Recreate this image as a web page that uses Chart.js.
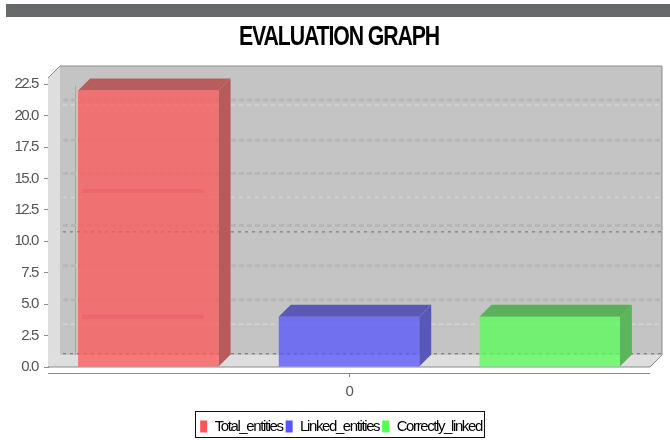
<!DOCTYPE html>
<html>
<head>
<meta charset="utf-8">
<title>Evaluation graph</title>
<script src="https://cdn.jsdelivr.net/npm/chart.js@4"></script>
<style>
  html, body { margin: 0; padding: 0; background: #fff; }
  #wrap { position: relative; width: 670px; height: 440px; }
  #topbar { position: absolute; left: 6px; right: 0; top: 4px; height: 13px; background: #676a6a; }
  canvas { position: absolute; left: 0; top: 0; }
</style>
</head>
<body>
<div id="wrap">
  <canvas id="myChart" width="670" height="440"></canvas>
  <div id="topbar"></div>
</div>
<script>
const categories = ['0'];
const seriesNames = ['Total_entities', 'Linked_entities', 'Correctly_linked'];
const totalEntities = [22];
const linkedEntities = [4];
const correctlyLinked = [4];
const yTicks = [0, 2.5, 5, 7.5, 10, 12.5, 15, 17.5, 20, 22.5];

// wall grid rows as they show in the picture (the scan smears them into three looks)
const softRows = [20.3, 17.1, 14.45, 10.3, 7.1, 4.4];
const lightRows = [19.9, 12.55, 2.45];
const darkRows = [9.8, 0.1];
const redBands = [14, 4];

const solid = ['#ff5555', '#5555ff', '#55ff55'];
const front = ['rgba(255,85,85,0.75)', 'rgba(85,85,255,0.75)', 'rgba(85,255,85,0.75)'];
const sideCol = ['#b85a5a', '#5858b8', '#5cb45c'];
const topCol = ['#b85c5c', '#5a5ab4', '#5cb05c'];
const DEPTH = 12;
const FONT = "'Liberation Sans', sans-serif";

function poly(ctx, pts, fill, stroke) {
  ctx.beginPath();
  pts.forEach((p, i) => i ? ctx.lineTo(p[0], p[1]) : ctx.moveTo(p[0], p[1]));
  ctx.closePath();
  if (fill) { ctx.fillStyle = fill; ctx.fill(); }
  if (stroke) { ctx.strokeStyle = stroke; ctx.stroke(); }
}

function rows(chart, values, color, width, dash) {
  const { ctx, chartArea: a, scales: { y } } = chart;
  ctx.save();
  ctx.strokeStyle = color;
  ctx.lineWidth = width;
  ctx.setLineDash(dash);
  values.forEach(v => {
    const py = y.getPixelForValue(v) - DEPTH;
    ctx.beginPath();
    ctx.moveTo(a.left + DEPTH + 3, py);
    ctx.lineTo(a.right + DEPTH, py);
    ctx.stroke();
  });
  ctx.restore();
}

const box3d = {
  id: 'box3d',
  // the original font is a narrow one, none is installed
  beforeUpdate(chart) { chart.ctx.letterSpacing = '-1.4px'; },
  afterLayout(chart) {
    // title squeezed by fillText's maxWidth, legend moved under the plot centre
    chart.titleBlock.left = 239;
    chart.titleBlock.right = 439;
    chart.legend.left = 32;
    chart.legend.top += 4;
    chart.legend.bottom += 4;
    chart.legend.adjustHitBoxes();
  },
  beforeDatasetsDraw(chart) {
    const { ctx, chartArea: a } = chart;
    const l = a.left, r = a.right, t = a.top, b = a.bottom, d = DEPTH;
    ctx.save();
    ctx.lineWidth = 1;
    poly(ctx, [[l + d, t - d], [r + d, t - d], [r + d, b - d], [l + d, b - d]], '#c4c4c4');
    poly(ctx, [[l, t], [l + d, t - d], [l + d, b - d], [l, b]], '#dedede');
    poly(ctx, [[l, b], [l + d, b - d], [r + d, b - d], [r, b]], '#dedede');
    ctx.beginPath();
    ctx.moveTo(l, t);
    ctx.lineTo(l + d, t - d);
    ctx.lineTo(r + d, t - d);
    ctx.lineTo(r + d, b - d);
    ctx.lineTo(r, b);
    ctx.lineTo(l, b);
    ctx.strokeStyle = '#8a8a8a';
    ctx.stroke();
    ctx.strokeStyle = '#9aa6c8';
    ctx.beginPath();
    ctx.moveTo(l + 27.5, t + 8);
    ctx.lineTo(l + 27.5, b - d);
    ctx.stroke();
    ctx.restore();
    rows(chart, softRows, '#b6b6b6', 3, [5, 3]);
    rows(chart, lightRows, '#dcdcdc', 1, [4, 4]);
    rows(chart, darkRows, '#6e6e6e', 1, [3, 4]);
    ctx.save();
    chart.data.datasets.forEach((ds, i) => {
      const bar = chart.getDatasetMeta(i).data[0];
      const x0 = bar.x - bar.width / 2, x1 = bar.x + bar.width / 2;
      poly(ctx, [[x0, bar.y], [x0 + d, bar.y - d], [x1 + d, bar.y - d], [x1, bar.y]], topCol[i]);
      poly(ctx, [[x1, bar.y], [x1 + d, bar.y - d], [x1 + d, bar.base - d], [x1, bar.base]], sideCol[i]);
    });
    ctx.restore();
  },
  afterDatasetsDraw(chart) {
    const { ctx, scales: { y } } = chart;
    const bar = chart.getDatasetMeta(0).data[0];
    ctx.save();
    ctx.strokeStyle = 'rgba(235,90,105,0.5)';
    ctx.lineWidth = 4;
    redBands.forEach(v => {
      const py = y.getPixelForValue(v);
      ctx.beginPath();
      ctx.moveTo(bar.x - bar.width / 2 + 4, py);
      ctx.lineTo(bar.x + bar.width / 2 - 15, py);
      ctx.stroke();
    });
    ctx.restore();
  },
  afterDraw(chart) {
    const { ctx, chartArea: a, scales: { x }, legend } = chart;
    ctx.save();
    // category axis sits a little under the floor
    ctx.strokeStyle = '#8a8a8a';
    ctx.lineWidth = 1;
    ctx.beginPath();
    ctx.moveTo(a.left, a.bottom + 6.5);
    ctx.lineTo(a.right, a.bottom + 6.5);
    const tx = Math.round(x.getPixelForTick(0)) + 0.5;
    ctx.moveTo(tx, a.bottom + 6.5);
    ctx.lineTo(tx, a.bottom + 10);
    ctx.stroke();
    // legend frame
    const hb = legend.legendHitBoxes;
    const last = hb[hb.length - 1];
    ctx.strokeStyle = '#111';
    ctx.strokeRect(Math.round(hb[0].left) - 4.5, Math.round(legend.top) - 4.5, Math.round(last.left + last.width - hb[0].left) + 7, 26);
    ctx.restore();
  }
};

new Chart(document.getElementById('myChart'), {
  type: 'bar',
  plugins: [box3d],
  data: {
    labels: categories,
    datasets: [
      { label: seriesNames[0], data: totalEntities, backgroundColor: front[0] },
      { label: seriesNames[1], data: linkedEntities, backgroundColor: front[1] },
      { label: seriesNames[2], data: correctlyLinked, backgroundColor: front[2] }
    ]
  },
  options: {
    responsive: false,
    animation: false,
    layout: { padding: { left: 0, right: 20, top: 0, bottom: 0 } },
    datasets: { bar: { categoryPercentage: 1, barPercentage: 0.7 } },
    scales: {
      x: {
        grid: { display: false },
        border: { display: false },
        ticks: { color: '#555', padding: 8, font: { family: FONT, size: 15 } },
        afterFit(scale) { scale.height = 45; }
      },
      y: {
        min: 0,
        max: 23,
        afterBuildTicks(axis) { axis.ticks = yTicks.map(v => ({ value: v })); },
        afterFit(scale) { scale.width = 48; },
        grid: { drawOnChartArea: false, color: '#8a8a8a', tickLength: 4 },
        border: { color: '#8a8a8a' },
        ticks: {
          color: '#555',
          padding: 6,
          font: { family: FONT, size: 15 },
          callback: v => v.toFixed(1)
        }
      }
    },
    plugins: {
      tooltip: { enabled: false },
      title: {
        display: true,
        text: 'EVALUATION GRAPH',
        color: '#000',
        padding: { top: 21, bottom: 24.6 },
        font: { family: FONT, size: 27, weight: 'bold' }
      },
      legend: {
        position: 'bottom',
        onClick: null,
        labels: {
          color: '#444',
          boxWidth: 7,
          boxHeight: 12,
          padding: 3,
          font: { family: FONT, size: 15 },
          generateLabels: () => seriesNames.map((name, i) => ({
            text: name, fillStyle: solid[i], strokeStyle: solid[i], lineWidth: 0, datasetIndex: i
          }))
        }
      }
    }
  }
});
</script>
</body>
</html>
